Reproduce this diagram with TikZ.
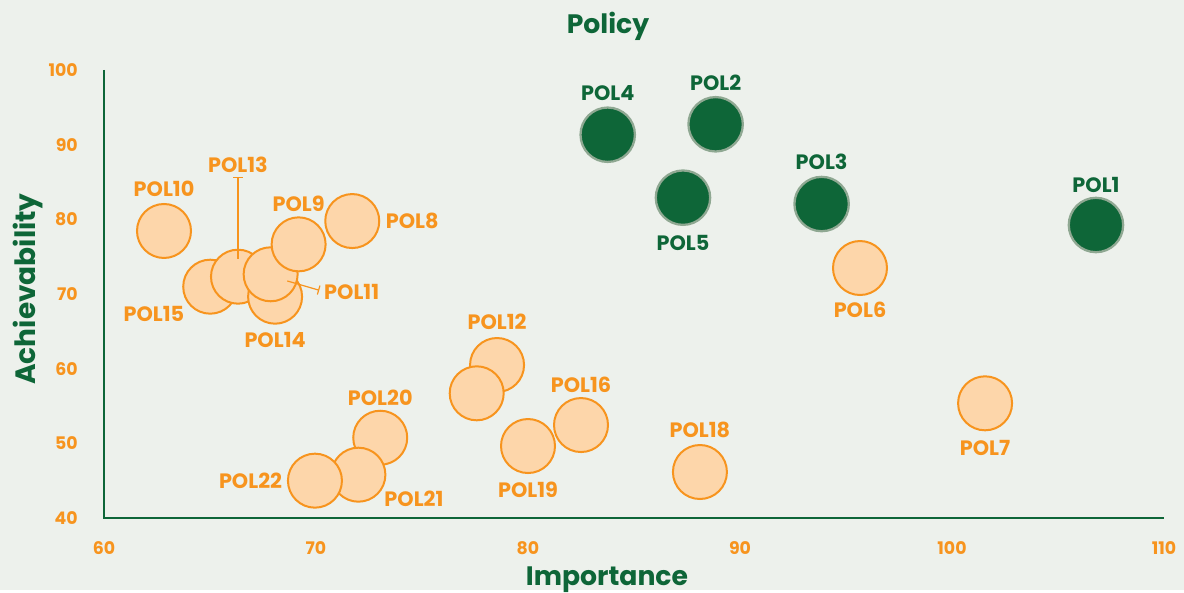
\documentclass[tikz,border=0pt]{standalone}
\usepackage{fontspec}
\setmainfont{Poppins}
\usepackage{tikz}
\usetikzlibrary{positioning}
\usetikzlibrary{arrows.meta}

\definecolor{chartbg}{RGB}{237,241,236}
\definecolor{polgreen}{RGB}{14,102,56}
\definecolor{polorange}{RGB}{247,148,30}
\definecolor{polpeach}{RGB}{253,214,170}
\definecolor{polring}{RGB}{143,168,146}

\begin{document}
\begin{tikzpicture}[x=0.75pt,y=-0.75pt,
  bubble/.style={circle,inner sep=0pt,minimum size=40.5pt,draw=polorange,fill=polpeach,line width=1.5pt},
  keybubble/.style={circle,inner sep=0pt,minimum size=40.8pt,draw=polring,fill=polgreen,line width=1.7pt},
  lbl/.style={inner sep=0pt,text=polorange,font=\fontsize{15.6}{16}\selectfont\bfseries},
  keylbl/.style={lbl,text=polgreen},
  ticklbl/.style={inner sep=0pt,text=polorange,font=\fontsize{13}{14}\selectfont\bfseries},
  axtitle/.style={inner sep=0pt,text=polgreen,font=\fontsize{20}{22}\selectfont\bfseries},
  leader/.style={polorange,line width=0.9pt,-{Bar[width=7pt]}}]

\fill[chartbg] (0,0) rectangle (1184,590);

\node[axtitle,anchor=base] (title) at (608,33.5) {Policy};
\node[axtitle,anchor=base] (xtitle) at (607,585) {Importance};
\node[axtitle,font=\fontsize{21}{22}\selectfont\bfseries,anchor=base,rotate=90] (ytitle) at (35,289) {Achievability};

\begin{scope}[x=15.9pt,y=5.6pt,shift={(-876pt,-612.5pt)}]

\draw[polgreen,line width=1.5pt] (60,100) -- (60,40) -- (110,40);

\foreach \v in {40,50,...,100}
  \node[ticklbl,anchor=east] (yt\v) at ([xshift=-19.5pt]60,\v) {\v};
\foreach \v in {60,70,...,110}
  \node[ticklbl] (xt\v) at ([yshift=-22.5pt]\v,40) {\v};

% orange bubbles, back to front
\node[bubble] (p10) at (62.83,78.44) {};
\node[bubble] (p15) at (65.01,70.98) {};
\node[bubble] (p13) at (66.32,72.32) {};
\node[bubble] (p14) at (68.07,69.64) {};
\node[bubble] (p11) at (67.86,72.64) {};
\node[bubble] (p9) at (69.18,76.65) {};
\node[bubble] (p8) at (71.71,79.77) {};
\node[bubble] (p12) at (78.54,60.49) {};
\node[bubble] (p17) at (77.58,56.70) {};
\node[bubble] (p20) at (73.03,50.75) {};
\node[bubble] (p21) at (72.00,45.80) {};
\node[bubble] (p22) at (69.95,45.00) {};
\node[bubble] (p19) at (80.00,49.64) {};
\node[bubble] (p16) at (82.50,52.45) {};
\node[bubble] (p18) at (88.11,46.16) {};
\node[bubble] (p6) at (95.66,73.48) {};
\node[bubble] (p7) at (101.56,55.36) {};

\node[keybubble] (p1) at (106.79,79.24) {};
\node[keybubble] (p2) at (88.85,92.73) {};
\node[keybubble] (p3) at (93.85,82.05) {};
\node[keybubble] (p4) at (83.76,91.33) {};
\node[keybubble] (p5) at (87.31,82.90) {};

\node[keylbl,above=3pt of p1] (l1) {POL1};
\node[keylbl,above=4pt of p2] (l2) {POL2};
\node[keylbl,above=4pt of p3] (l3) {POL3};
\node[keylbl,above=4pt of p4] (l4) {POL4};
\node[keylbl,below=6.5pt of p5] (l5) {POL5};

\node[lbl,below=4pt of p6] (l6) {POL6};
\node[lbl,below=6.5pt of p7] (l7) {POL7};
\node[lbl,right=4pt of p8] (l8) {POL8};
\node[lbl,above=3pt of p9] (l9) {POL9};
\node[lbl,above=4.5pt of p10] (l10) {POL10};
\node[lbl,anchor=west] (l11) at ([shift={(40pt,-13pt)}]p11.center) {POL11};
\node[lbl,above=5pt of p12] (l12) {POL12};
\node[lbl,above=57pt of p13] (l13) {POL13};
\node[lbl,below=5.5pt of p14] (l14) {POL14};
\node[lbl,below left=0pt and 4.5pt of p15] (l15) {POL15};
\node[lbl,above=3pt of p16] (l16) {POL16};
\node[lbl,above=4.5pt of p18] (l18) {POL18};
\node[lbl,below=5.5pt of p19] (l19) {POL19};
\node[lbl,above=3pt of p20] (l20) {POL20};
\node[lbl,below right=-3pt and 4.5pt of p21] (l21) {POL21};
\node[lbl,left=3.5pt of p22] (l22) {POL22};

\coordinate (c13) at ([yshift=13.5pt]p13.center);
\draw[leader,shorten >=3.4pt] (c13) -- (c13 |- l13.south);
\coordinate (c11) at ([shift={(12.5pt,-5pt)}]p11.center);
\draw[leader,shorten >=3.7pt] (c11) -- (l11.west);

\end{scope}
\end{tikzpicture}
\end{document}
